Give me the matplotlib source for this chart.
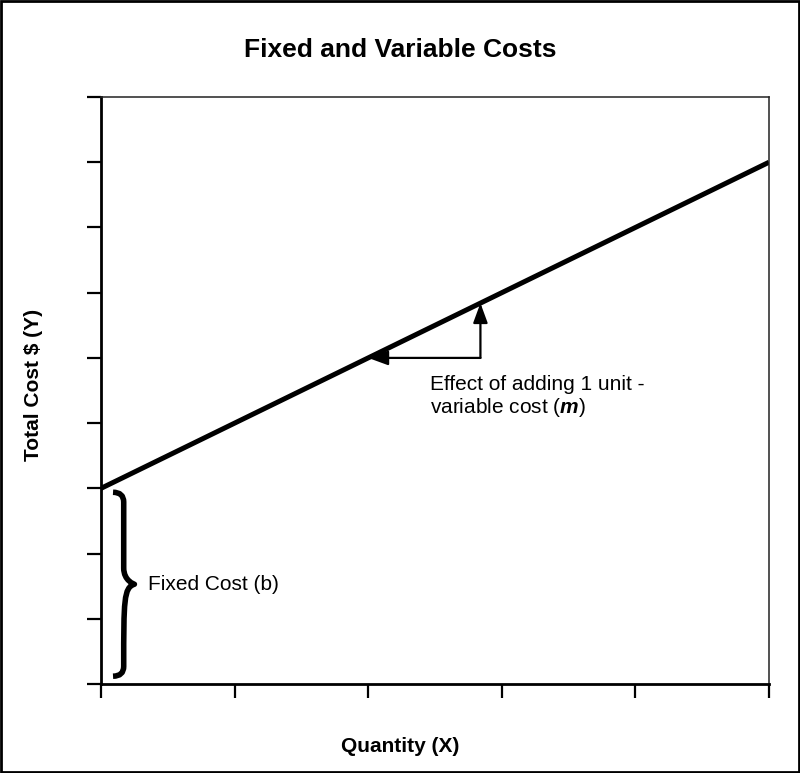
import matplotlib.pyplot as plt
from matplotlib.path import Path
from matplotlib.patches import PathPatch, Rectangle
import numpy as np

plt.rcParams['font.family'] = ['Liberation Sans', 'DejaVu Sans']
plt.rcParams['mathtext.fontset'] = 'custom'
plt.rcParams['mathtext.bfit'] = 'Liberation Sans:italic:bold'

# cost model
fixed_cost = 3
variable_cost = 1
quantity = np.array([0, 5])
total_cost = fixed_cost + variable_cost * quantity

x_ticks = [0, 1, 2, 3, 4, 5]
y_ticks = [0, 1, 2, 3, 4, 5, 6, 7, 8, 9]

# step shown by the arrows
step_q = 2
step_dq = 0.84

fig = plt.figure(figsize=(8, 7.73), dpi=100)
ax = fig.add_axes([0.12625, 0.1151, 0.835, 0.7594])

ax.plot(quantity, total_cost, color='black', lw=3.6, solid_capstyle='butt')

ax.set_xlim(x_ticks[0], x_ticks[-1])
ax.set_ylim(y_ticks[0], y_ticks[-1])
ax.set_xticks(x_ticks)
ax.set_yticks(y_ticks)
ax.tick_params(axis='both', which='both', direction='out', length=10, width=1.6,
               labelbottom=False, labelleft=False)
for s in ['left', 'bottom']:
    ax.spines[s].set_linewidth(2)
for s in ['top', 'right']:
    ax.spines[s].set_linewidth(1.1)
    ax.spines[s].set_color('#222222')

# arrows for adding one unit
y0 = fixed_cost + variable_cost * step_q
x1 = step_q + step_dq
arrow = dict(arrowstyle='-|>,head_length=0.6,head_width=0.22', mutation_scale=20,
             color='black', lw=1.6, shrinkA=0, shrinkB=0)
ax.annotate('', xy=(step_q, y0), xytext=(x1, y0), arrowprops=arrow)
ax.annotate('', xy=(x1, fixed_cost + variable_cost * x1), xytext=(x1, y0), arrowprops=arrow)
ax.text(2.46, 4.40, 'Effect of adding 1 unit -\nvariable cost ($\\mathbfit{m}$)',
        fontsize=15, ha='left', va='center', linespacing=1.1)

# curly brace for fixed cost
bx0, bx1, bx2 = 0.09, 0.17, 0.25
top, bot = fixed_cost - 0.06, 0.12
mid = (top + bot) / 2
verts = [(bx0, top), (bx1, top), (bx1, top - 0.15), (bx1, top - 0.35),
         (bx1, mid + 0.25),
         (bx1, mid + 0.05), (bx2, mid), (bx2, mid),
         (bx2, mid), (bx1, mid - 0.05), (bx1, mid - 0.25),
         (bx1, bot + 0.15),
         (bx1, bot), (bx0, bot)]
codes = [Path.MOVETO, Path.CURVE3, Path.CURVE3, Path.LINETO,
         Path.LINETO,
         Path.CURVE4, Path.CURVE4, Path.CURVE4,
         Path.LINETO, Path.CURVE4, Path.CURVE4,
         Path.LINETO,
         Path.CURVE3, Path.CURVE3]
ax.add_patch(PathPatch(Path(verts, codes), fill=False, lw=4, color='black',
                       capstyle='butt', joinstyle='round'))
ax.text(0.35, mid, 'Fixed Cost (b)', fontsize=15, ha='left', va='center')

fig.text(0.5, 1 - 50 / 773, 'Fixed and Variable Costs', fontsize=19, fontweight='bold',
         ha='center', va='center')
fig.text(0.5, 1 - 746 / 773, 'Quantity (X)', fontsize=15, fontweight='bold',
         ha='center', va='center')
fig.text(34 / 800, 1 - 385 / 773, 'Total Cost $ (Y)', fontsize=15, fontweight='bold',
         ha='center', va='center', rotation=90)

fig.add_artist(Rectangle((0.0015, 0.0015), 0.997, 0.997, transform=fig.transFigure,
                         fill=False, lw=2, edgecolor='black'))

fig.savefig('out.png', dpi=100)
